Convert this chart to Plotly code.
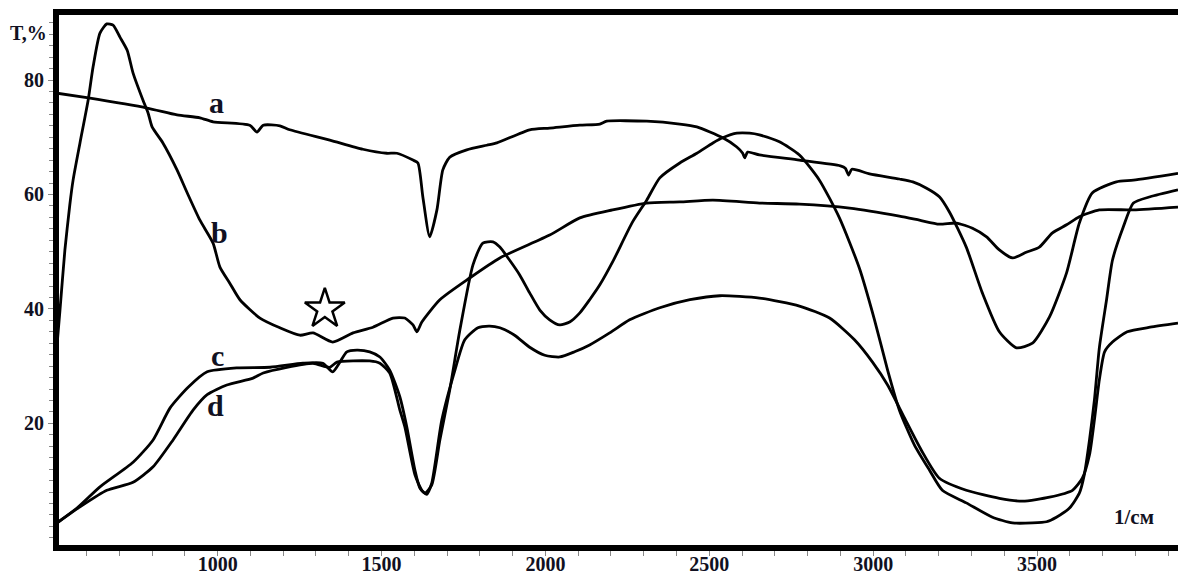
import plotly.graph_objects as go

# IR transmission spectra, wavenumber (1/cm) vs transmittance T (%)
a_wn = [510, 601, 785, 876, 946, 986, 1098, 1120, 1139, 1190, 1220, 1342, 1443, 1516, 1547,
        1596, 1611, 1626, 1647, 1669, 1687, 1708, 1760, 1821, 1852, 1952, 2013, 2105, 2166,
        2187, 2309, 2410, 2462, 2541, 2584, 2602, 2608, 2617, 2653, 2775, 2900, 2915, 2925,
        2935, 2989, 3080, 3121, 3163, 3202, 3233, 3284, 3333, 3385, 3437, 3486, 3538, 3590,
        3629, 3669, 3742, 3794, 3930]
a_t = [77.7, 76.9, 75.1, 73.9, 73.4, 72.7, 72.1, 70.9, 72.1, 72.0, 71.3, 69.5, 67.9, 67.2, 67.2,
       66.0, 65.5, 59.6, 52.6, 57.3, 64.3, 66.5, 67.8, 68.6, 69.0, 71.3, 71.6, 72.1, 72.3,
       72.8, 72.8, 72.3, 71.8, 69.9, 68.3, 67.2, 66.4, 67.4, 66.9, 66.0, 65.0, 64.6, 63.4,
       64.4, 63.6, 62.7, 62.2, 61.1, 59.6, 56.9, 50.8, 42.8, 36.0, 33.2, 34.0, 38.6, 46.3,
       55.0, 60.3, 62.2, 62.5, 63.7]

b_wn = [510, 519, 534, 549, 559, 580, 605, 620, 641, 662, 681, 702, 724, 742, 772, 788, 800,
        833, 876, 907, 946, 986, 1007, 1037, 1068, 1129, 1190, 1251, 1291, 1351, 1413, 1474,
        1535, 1571, 1596, 1608, 1623, 1678, 1769, 1861, 2013, 2105, 2205, 2309, 2410, 2511,
        2653, 2775, 2928, 3080, 3141, 3202, 3254, 3303, 3346, 3385, 3425, 3467, 3507, 3547,
        3590, 3629, 3690, 3794, 3930]
b_t = [33.7, 39.8, 50.3, 58.2, 62.5, 69.0, 76.5, 82.3, 88.2, 89.8, 89.6, 87.5, 85.2, 81.2, 76.5,
       74.2, 71.8, 69.0, 64.3, 60.3, 55.5, 51.5, 47.3, 44.5, 41.6, 38.4, 36.7, 35.4, 35.8, 34.2,
       35.8, 36.8, 38.4, 38.4, 37.2, 36.0, 37.7, 41.6, 45.4, 48.9, 52.9, 55.9, 57.3, 58.5,
       58.7, 59.0, 58.5, 58.3, 57.6, 56.2, 55.5, 54.8, 55.0, 54.1, 52.6, 50.3, 48.9, 49.9,
       50.8, 53.3, 54.7, 56.1, 57.3, 57.3, 57.8]

c_wn = [510, 571, 641, 742, 803, 855, 910, 968, 1059, 1160, 1260, 1321, 1351, 1373, 1394, 1425,
        1464, 1495, 1525, 1556, 1577, 1602, 1617, 1632, 1653, 1678, 1708, 1739, 1779, 1809,
        1840, 1861, 1891, 1922, 1952, 1983, 2013, 2044, 2074, 2105, 2135, 2166, 2205, 2266,
        2309, 2349, 2410, 2462, 2511, 2541, 2584, 2623, 2653, 2714, 2775, 2836, 2897, 2958,
        3004, 3044, 3080, 3126, 3172, 3211, 3284, 3364, 3425, 3486, 3529, 3559, 3599, 3629,
        3644, 3660, 3675, 3690, 3712, 3730, 3763, 3794, 3845, 3930]
c_t = [2.6, 5.2, 8.9, 13.2, 17.1, 22.7, 26.3, 29.0, 29.7, 29.8, 30.5, 30.5, 29.0, 30.7, 32.5,
       32.8, 32.5, 31.6, 29.3, 24.6, 19.4, 11.8, 8.7, 7.8, 9.2, 17.1, 25.8, 36.3, 47.7, 51.5,
       51.7, 50.8, 48.5, 45.9, 42.8, 39.8, 38.1, 37.2, 37.7, 39.3, 41.6, 44.2, 48.2, 55.2,
       59.0, 62.9, 65.5, 67.2, 69.0, 69.9, 70.7, 70.7, 70.4, 69.2, 66.9, 62.5, 55.9, 47.1,
       38.1, 29.3, 22.3, 16.2, 11.8, 8.3, 6.1, 3.6, 2.6, 2.6, 2.8, 3.6, 5.2, 7.8,
       11.0, 17.1, 24.1, 33.2, 41.6, 48.5, 54.3, 58.5, 59.6, 60.8]

d_wn = [510, 580, 662, 742, 803, 864, 925, 968, 1028, 1108, 1139, 1211, 1291, 1342, 1364,
        1464, 1495, 1525, 1556, 1571, 1602, 1623, 1638, 1653, 1684, 1724, 1754, 1794, 1830,
        1861, 1906, 1952, 1998, 2044, 2089, 2135, 2196, 2257, 2349, 2441, 2532, 2653, 2775,
        2867, 2943, 2998, 3044, 3096, 3147, 3202, 3284, 3385, 3456, 3538, 3608, 3638, 3660,
        3675, 3690, 3706, 3730, 3775, 3845, 3930]
d_t = [2.6, 5.4, 8.3, 9.7, 12.4, 17.1, 22.3, 25.0, 26.7, 27.9, 28.8, 29.8, 30.5, 29.8, 30.7,
       30.9, 30.5, 28.8, 22.3, 19.4, 11.0, 8.3, 7.6, 9.5, 20.6, 29.3, 34.6, 36.7, 37.0, 36.7,
       35.4, 33.3, 31.9, 31.6, 32.5, 33.7, 35.8, 38.1, 40.2, 41.6, 42.3, 41.9, 40.5,
       38.4, 34.6, 30.7, 26.7, 20.9, 15.3, 10.4, 8.3, 6.9, 6.4, 7.1, 8.3, 10.4, 14.5,
       20.6, 27.6, 32.5, 34.2, 36.0, 36.8, 37.5]

# marked position on curve b
star_wn = [1327]
star_t = [40.0]

# curve labels
label_text = ["a", "b", "c", "d"]
label_wn = [996, 1007, 1001, 992]
label_t = [76.0, 53.4, 31.9, 23.2]

x_tick_vals = [1000, 1500, 2000, 2500, 3000, 3500]
y_tick_vals = [20, 40, 60, 80]

x_range = [516, 3930]
y_range = [-1.26, 91.36]

serif = "Liberation Serif, Times New Roman, serif"
ink = "#000000"
text_col = "#111122"

fig = go.Figure()
for wn, t in [(a_wn, a_t), (b_wn, b_t), (c_wn, c_t), (d_wn, d_t)]:
    fig.add_trace(go.Scatter(x=wn, y=t, mode="lines",
                             line=dict(color=ink, width=2.8, shape="spline", smoothing=0.6),
                             hoverinfo="skip", showlegend=False))

fig.add_trace(go.Scatter(x=star_wn, y=star_t, mode="markers",
                         marker=dict(symbol="star-open", size=30, color=ink,
                                     line=dict(color=ink, width=2.5)),
                         hoverinfo="skip", showlegend=False))

for txt, xv, yv in zip(label_text, label_wn, label_t):
    fig.add_annotation(x=xv, y=yv, text="<b>%s</b>" % txt, showarrow=False,
                       font=dict(family=serif, size=30, color=text_col))

fig.add_annotation(x=-0.009, xref="paper", y=88.2, yref="y", text="<b>T,%</b>",
                   showarrow=False, xanchor="right",
                   font=dict(family=serif, size=20, color=text_col))
fig.add_annotation(x=3797, y=3.6, text="<b>1/см</b>", showarrow=False,
                   font=dict(family=serif, size=21, color=text_col))

fig.update_layout(
    width=1178, height=577,
    margin=dict(l=59, r=0, t=15, b=32),
    paper_bgcolor="white", plot_bgcolor="white",
    xaxis=dict(range=x_range, showgrid=False, zeroline=False, automargin=False,
               showline=True, linecolor=ink, linewidth=6, mirror=True,
               tickvals=x_tick_vals, ticktext=["<b>%d</b>" % v for v in x_tick_vals],
               ticks="outside", ticklen=5, tickwidth=1, tickcolor="#888888",
               ticklabelstandoff=-9,
               minor=dict(dtick=100, tick0=0, ticks="outside", ticklen=5, tickwidth=1,
                          tickcolor="#888888", showgrid=False),
               tickfont=dict(family=serif, size=20, color=text_col)),
    yaxis=dict(range=y_range, showgrid=False, zeroline=False, automargin=False,
               showline=True, linecolor=ink, linewidth=6, mirror=False,
               tickvals=y_tick_vals, ticktext=["<b>%d</b>" % v for v in y_tick_vals],
               ticks="outside", ticklen=5, tickwidth=1, tickcolor="#888888",
               minor=dict(dtick=2, tick0=0, ticks="outside", ticklen=4, tickwidth=1,
                          tickcolor="#888888", showgrid=False),
               tickfont=dict(family=serif, size=20, color=text_col)),
)

fig.write_html("out.html")
